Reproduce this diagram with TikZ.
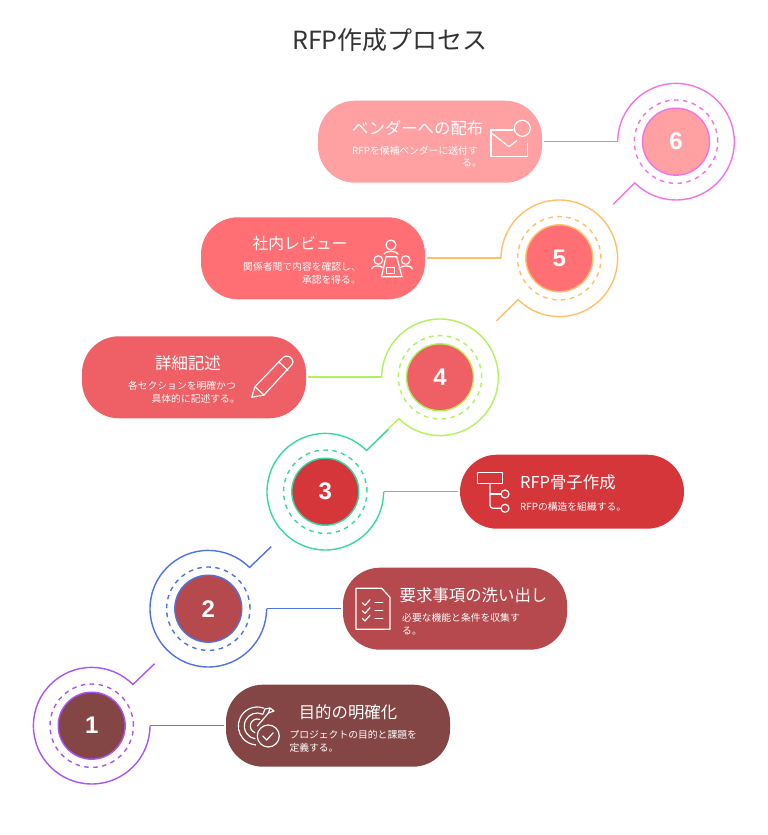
\documentclass[tikz,border=0pt]{standalone}
\usepackage{fontspec}
\usetikzlibrary{calc}
\setmainfont{Noto Sans CJK JP}
\newfontfamily\numfont{Liberation Sans}
\definecolor{pa}{HTML}{844545}\definecolor{pb}{HTML}{B5494D}\definecolor{pc}{HTML}{D5363A}
\definecolor{pd}{HTML}{EE5F66}\definecolor{pe}{HTML}{FF6F74}\definecolor{pf}{HTML}{FFA0A3}
\definecolor{la}{HTML}{A855F7}\definecolor{lb}{HTML}{4F73E3}\definecolor{lc}{HTML}{34D9A6}
\definecolor{ld}{HTML}{B2F25C}\definecolor{le}{HTML}{FFC069}\definecolor{lf}{HTML}{F472E6}
\tikzset{
  pill/.style={rounded corners=37pt,minimum width=224pt,minimum height=82pt,inner sep=0pt,draw=none,fill=#1},
  disc/.style 2 args={circle,minimum size=67pt,inner sep=0pt,draw=#1,line width=1.4pt,fill=#2,text=white,font=\numfont\bfseries\fontsize{24}{24}\selectfont},
  ring/.style={line width=1.4pt,draw=#1},
  dashring/.style={line width=1.4pt,draw=#1,dash pattern=on 4.5pt off 4.5pt},
  conn/.style={line width=1.6pt,draw=#1},
  head/.style={text=white,inner sep=0pt,font=\fontsize{16.4}{16.4}\selectfont},
  sub/.style={text=white,inner sep=0pt,font=\fontsize{9.8}{9.8}\selectfont},
  ico/.style={draw=white,line width=1.2pt,line cap=round,line join=round},
}
\begin{document}
\begin{tikzpicture}[x=1pt,y=1pt]
\useasboundingbox[fill=white] (0,0) rectangle (768,835);
\node[text=black!80,inner sep=0pt,font=\fontsize{25}{25}\selectfont] (title) at (390,795) {RFP作成プロセス};
% pills
\node[pill=pa] (p1) at (338,109.3) {};
\node[pill=pb] (p2) at (455,226.3) {};
\node[pill=pc,minimum height=74pt] (p3) at (572,343.3) {};
\node[pill=pd] (p4) at (194,457.7) {};
\node[pill=pe] (p5) at (313,576.7) {};
\node[pill=pf] (p6) at (430,693.3) {};
% discs
\node[disc={la}{pa}] (c1) at (91.7,109.3) {1};
\node[disc={lb}{pb}] (c2) at (208.3,226.3) {2};
\node[disc={lc}{pc}] (c3) at (325.3,343.3) {3};
\node[disc={ld}{pd}] (c4) at (440,457.7) {4};
\node[disc={le}{pe}] (c5) at (559.3,576.7) {5};
\node[disc={lf}{pf}] (c6) at (676,693.3) {6};
% rings, upper ones first so lower tails lie on top
\foreach \n/\col in {6/lf,5/le,4/ld}{
  \coordinate (a\n) at ($(c\n)+(-58.3,0)$);
  \draw[dashring=\col] (c\n) circle[radius=41.7];
  \draw[ring=\col] (a\n) arc[start angle=180,delta angle=-315,radius=58.3] -- ++(-21.7,-21.5) coordinate (t\n);
  \draw[conn=\col] (a\n) -- ($(p\n.east)+(1.5,0)$);
}
\foreach \n/\col in {3/lc,2/lb,1/la}{
  \coordinate (a\n) at ($(c\n)+(58.3,0)$);
  \draw[dashring=\col] (c\n) circle[radius=41.7];
  \draw[ring=\col] (a\n) arc[start angle=0,delta angle=-315,radius=58.3] -- ++(21.7,20.8) coordinate (t\n);
  \draw[conn=\col] (a\n) -- ($(p\n.west)+(-1.5,0)$);
}
% headings
\node[head] (h1) at (348,123) {目的の明確化};
\node[head,anchor=west] (h2) at (399.5,240) {要求事項の洗い出し};
\node[head,anchor=west] (h3) at (520,353) {RFP骨子作成};
\node[head] (h4) at (188,472) {詳細記述};
\node[head,font=\fontsize{15.8}{15.8}\selectfont] (h5) at (300,591) {社内レビュー};
\node[head,anchor=east] (h6) at (483.5,707) {ベンダーへの配布};
% sub texts
\node[sub,anchor=west] (s1a) at (289.3,100.7) {プロジェクトの目的と課題を};
\node[sub,anchor=west] (s1b) at (289.3,87.7) {定義する。};
\node[sub,anchor=west] (s2a) at (402,217) {必要な機能と条件を収集す};
\node[sub,anchor=west] (s2b) at (402,204) {る。};
\node[sub,anchor=west] (s3a) at (520,328) {RFPの構造を組織する。};
\node[sub,anchor=east] (s4a) at (236,449) {各セクションを明確かつ};
\node[sub,anchor=east] (s4b) at (240,436) {具体的に記述する。};
\node[sub,anchor=east] (s5a) at (361,568) {関係者間で内容を確認し、};
\node[sub,anchor=east] (s5b) at (361,554.7) {承認を得る。};
\node[sub,anchor=east] (s6a) at (478,684.7) {RFPを候補ベンダーに送付す};
\node[sub,anchor=east] (s6b) at (482,671.7) {る。};
% icons, in screen coordinates
\begin{scope}[yshift=835pt,yscale=-1]
  % target
  \coordinate (i1) at (257.3,726);
  \draw[ico] ($(i1)+(-70:19)$) arc[start angle=-70,end angle=-265,radius=19];
  \draw[ico] ($(i1)+(-65:13)$) arc[start angle=-65,end angle=-260,radius=13];
  \draw[ico] ($(i1)+(-70:7)$) arc[start angle=-70,end angle=-250,radius=7];
  \draw[ico] (i1) -- (268.5,713) -- (270,708) -- (265,709) -- (263,714) (268.5,713) -- (274,711) -- (270,708);
  \draw[ico] (268.3,736) circle[radius=11];
  \draw[ico] (262.7,736) -- (266.7,740) -- (273.3,732.7);
  % list
  \draw[ico] (356,588.3) -- (381.7,588.3) -- (390,597.3) -- (390,629.3) -- (356,629.3) -- cycle;
  \foreach \yy in {602.7,610.7,618.3}{
    \draw[ico] (362.3,\yy) -- (365,\yy+2.7) -- (370,\yy-3);
    \draw[ico] (375,\yy) -- (382.7,\yy);
  }
  % tree
  \draw[ico] (477.3,472.7) rectangle (502.3,483.3);
  \draw[ico,rounded corners=3pt] (490,483.3) -- (490,508.3) -- (501,508.3);
  \draw[ico] (490,494) -- (501,494);
  \draw[ico] (505,494) circle[radius=4];
  \draw[ico] (505,508.3) circle[radius=4];
  % pencil
  \draw[ico] (251.7,397.3) -- (255,386.7) -- (283.3,357.3) .. controls (286,355) and (290,356) .. (292,359) .. controls (293.5,361) and (293,363) .. (292,364.5) -- (264,395) -- cycle;
  \draw[ico] (255,386.7) -- (264,395);
  \draw[ico] (279,362) -- (288,370.5);
  % meeting
  \draw[ico] (391,245) circle[radius=5];
  \draw[ico] (384,254) .. controls (385,250.5) and (397,250.5) .. (398,254);
  \draw[ico] (378.3,260) circle[radius=4.3];
  \draw[ico] (405.7,260) circle[radius=4.3];
  \draw[ico] (371.5,269) .. controls (373,265.5) and (378,264.5) .. (384,268);
  \draw[ico] (412.5,269) .. controls (411,265.5) and (405,264.5) .. (399,268);
  \draw[ico] (386,256.7) -- (396.7,256.7) -- (402,276.7) -- (381.5,276.7) -- cycle;
  \draw[ico] (386.7,267.7) rectangle (394.5,273.3);
  % envelope
  \draw[ico] (513,130) -- (491,130) -- (491,156.7) -- (527.3,156.7) -- (527.3,143.3);
  \draw[ico] (492,133.5) -- (509,146.7) -- (516.7,140.7);
  \draw[ico] (522.3,128.3) circle[radius=8];
\end{scope}
\end{tikzpicture}
\end{document}
